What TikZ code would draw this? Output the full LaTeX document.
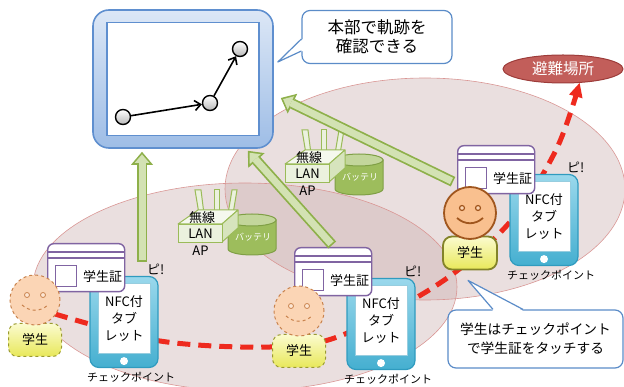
\documentclass[tikz,border=0pt]{standalone}
\usepackage{fontspec}
\setmainfont{Noto Sans CJK JP}
\usetikzlibrary{positioning,calc,arrows.meta,shapes.geometric}

\definecolor{areafill}{HTML}{C4A4A4}
\definecolor{areaedge}{HTML}{D99694}
\definecolor{frameblue}{HTML}{5F8FCF}
\definecolor{framelight}{HTML}{DCE7F6}
\definecolor{framedark}{HTML}{9EBDE6}
\definecolor{noteedge}{HTML}{5B8CC8}
\definecolor{linkgreen}{HTML}{8EB04A}
\definecolor{linkfill}{HTML}{D3E2B3}
\definecolor{apedge}{HTML}{9BBB59}
\definecolor{apfill}{HTML}{EBF1DE}
\definecolor{apside}{HTML}{D7E4BD}
\definecolor{batfill}{HTML}{9DBD5C}
\definecolor{battop}{HTML}{C3D69B}
\definecolor{batedge}{HTML}{7F9F45}
\definecolor{cardedge}{HTML}{8064A2}
\definecolor{padedge}{HTML}{2F9BBF}
\definecolor{padlight}{HTML}{9AD8EC}
\definecolor{paddark}{HTML}{45AFD0}
\definecolor{evacred}{HTML}{EE2A1E}
\definecolor{shelterfill}{HTML}{C25E5A}
\definecolor{shelteredge}{HTML}{9D3C3A}
\definecolor{facelight}{HTML}{FBD5B5}
\definecolor{facefill}{HTML}{F9C08F}
\definecolor{faceedge}{HTML}{C8824C}
\definecolor{facedark}{HTML}{A0561E}
\definecolor{bodytop}{HTML}{FBFBCF}
\definecolor{bodybottom}{HTML}{E8E85A}
\definecolor{bodyedge}{HTML}{9A9A30}

\begin{document}
\begin{tikzpicture}[
    x=1pt,y=-1pt,
    font=\fontsize{13}{16}\selectfont,
    thick
  ]
\useasboundingbox (0,0) rectangle (624,387);

\tikzstyle{area}=[fill=areafill,fill opacity=.35]
\tikzstyle{arealine}=[draw=areaedge,line width=.6pt]
\tikzstyle{frame}=[rectangle,rounded corners=16pt,minimum width=180,minimum height=138,draw=frameblue,line width=1.6pt,top color=framelight,bottom color=framedark]
\tikzstyle{monitor}=[rectangle,minimum width=152,minimum height=113,draw=frameblue,line width=1.6pt,fill=white]
\tikzstyle{dot}=[circle,minimum size=15,inner sep=0pt,draw=black,line width=1.4pt,top color=white,bottom color=black!28]
\tikzstyle{track}=[line width=1.6pt,-{Straight Barb[length=6pt,width=10pt]}]
\tikzstyle{note}=[rectangle,rounded corners=8pt,draw=noteedge,line width=1.2pt,fill=white,align=center]
\tikzstyle{noteline}=[draw=noteedge,line width=1.2pt,line join=round]
\tikzstyle{shelter}=[ellipse,minimum width=120,minimum height=28,inner sep=0pt,fill=shelterfill,draw=shelteredge,line width=1pt,text=white,font=\fontsize{15.5}{18}\selectfont]
\tikzstyle{evac}=[draw=evacred,line width=5pt,dash pattern=on 13pt off 8pt,-{Triangle[length=14pt,width=14pt,line width=0pt]}]
\tikzstyle{uplink}=[draw=linkgreen,line width=10.5pt,-{Triangle[length=13pt,width=22pt,line width=0pt]}]
\tikzstyle{uplinkfill}=[draw=linkfill,line width=7pt,-{Triangle[length=8.6pt,width=14.8pt,line width=0pt]},shorten >=2.6pt,shorten <=1.7pt]
\tikzstyle{antenna}=[draw=apedge,fill=apfill,line width=1pt]
\tikzstyle{aptop}=[draw=apedge,fill=apfill!50!white,line width=1pt,line join=round]
\tikzstyle{apright}=[draw=apedge,fill=apside,line width=1pt,line join=round]
\tikzstyle{apfront}=[rectangle,anchor=north west,minimum width=44,minimum height=18,inner sep=0pt,draw=apedge,fill=apfill,line width=1pt]
\tikzstyle{batbody}=[draw=batedge,fill=batfill,line width=1pt]
\tikzstyle{battopface}=[draw=batedge,fill=battop,line width=1pt]
\tikzstyle{battext}=[text=white,font=\fontsize{9}{10}\selectfont]
\tikzstyle{card}=[rectangle,anchor=north west,rounded corners=6pt,minimum width=77,minimum height=48,draw=cardedge,line width=1.4pt,fill=white]
\tikzstyle{cardline}=[draw=cardedge,line width=1.4pt]
\tikzstyle{photo}=[rectangle,anchor=south west,minimum size=21,inner sep=0pt,draw=cardedge,line width=1.4pt,fill=white]
\tikzstyle{pad}=[rectangle,rounded corners=9pt,minimum width=68,minimum height=91,draw=padedge,line width=1.2pt,top color=padlight,bottom color=paddark]
\tikzstyle{padscreen}=[rectangle,anchor=north,minimum width=52,minimum height=70,inner sep=0pt,fill=white,draw=padedge!50,line width=.5pt,align=center,font=\fontsize{13}{17}\selectfont]
\tikzstyle{padbutton}=[circle,minimum size=8,inner sep=0pt,fill=white]
\tikzstyle{past head}=[circle,minimum size=50,inner sep=0pt,draw=faceedge,dashed,line width=1pt,fill=facelight]
\tikzstyle{now head}=[circle,minimum size=52,inner sep=0pt,draw=facedark,line width=1.8pt,fill=facefill]
\tikzstyle{past body}=[rectangle,rounded corners=9pt,minimum width=53,minimum height=33,draw=bodyedge,dashed,line width=1pt,top color=bodytop,bottom color=bodybottom]
\tikzstyle{now body}=[rectangle,rounded corners=9pt,minimum width=54,minimum height=33,draw=bodyedge!85!black,line width=1.8pt,top color=bodytop,bottom color=bodybottom]
\tikzstyle{past eye}=[draw=faceedge,fill=facelight!60!white,line width=.8pt]
\tikzstyle{now eye}=[draw=facedark,fill=facelight,line width=1.2pt]
\tikzstyle{past smile}=[draw=faceedge,dashed,line width=1pt]
\tikzstyle{now smile}=[draw=facedark,line width=1.8pt]

% wireless AP with its battery, #2,#3 = top left of the front face
\def\aprouter#1#2#3{
  \begin{scope}[shift={(#2,#3)}]
    \filldraw[batbody] (50,-4) -- (50,25) arc[start angle=180,end angle=360,x radius=24pt,y radius=6pt] -- (98,-4) -- cycle;
    \filldraw[battopface] (74,-4) ellipse [x radius=24pt,y radius=6pt];
    \node[battext] (#1bat) at (75,13) {バッテリ};
    \filldraw[antenna] (17,-34) -- (23,-34) -- (26,-10) -- (21,-10) -- cycle;
    \filldraw[antenna] (36,-34) -- (41,-34) -- (41,-10) -- (36,-10) -- cycle;
    \filldraw[antenna] (54,-34) -- (59,-34) -- (55,-10) -- (50,-10) -- cycle;
    \filldraw[aptop] (0,0) -- (20,-14) -- (60,-14) -- (44,0) -- cycle;
    \filldraw[apright] (44,0) -- (60,-14) -- (60,4) -- (44,18) -- cycle;
    \node[apfront] (#1) at (0,0) {LAN};
    \node (#1name) at (24,-6) {無線};
    \node[below=-1pt of #1] (#1label) {AP};
  \end{scope}
}

% student ID card, #2,#3 = top left corner
\def\idcard#1#2#3{
  \node[card] (#1) at (#2,#3) {};
  \draw[cardline] ($(#1.north west)+(0,9)$) -- ($(#1.north east)+(0,9)$);
  \draw[cardline] ($(#1.north west)+(0,15)$) -- ($(#1.north east)+(0,15)$);
  \node[photo] (#1photo) at ($(#1.south west)+(8,-5)$) {};
  \node[right=2pt of #1photo] (#1text) {学生証};
}

% student, #2,#3 = centre of the head, #4 = past or now
\def\student#1#2#3#4{
  \node[#4 body] (#1body) at (#2,#3+40) {学生};
  \node[#4 head] (#1head) at (#2,#3) {};
  \begin{scope}[shift={(#1head.center)}]
    \draw[#4 eye] (-8,-5) circle (2.5pt);
    \draw[#4 eye] (8,-5) circle (2.5pt);
    \draw[#4 smile] (-13,5) .. controls (-5,12) and (5,12) .. (13,5);
  \end{scope}
}

% NFC tablet used as check point
\def\tabpad#1#2#3{
  \node[pad] (#1) at (#2,#3) {};
  \node[padscreen] (#1scr) at ($(#1.north)+(0,7)$) {NFC付\\タブ\\レット};
  \node[padbutton] (#1btn) at ($(#1.south)+(0,-7)$) {};
  \node[below=0pt of #1,xshift=7pt,font=\fontsize{11}{13}\selectfont] (#1label) {チェックポイント};
  \node (#1beep) at ($(#1.north east)+(-3,-7)$) {ピ!};
}

\def\uplinkarrow#1#2{
  \draw[uplink] (#1) -- (#2);
  \draw[uplinkfill] (#1) -- (#2);
}

% radio areas
\fill[area] (245,287) ellipse [x radius=212pt,y radius=104pt];
\fill[area] (425,189) ellipse [x radius=200pt,y radius=111pt];
\draw[arealine] (245,287) ellipse [x radius=212pt,y radius=104pt];
\draw[arealine] (425,189) ellipse [x radius=200pt,y radius=111pt];

% head office screen
\node[frame] (screen) at (183,79) {};
\node[monitor] (monitor) at (screen.center) {};
\node[dot] (p1) at (123,117) {};
\node[dot] (p2) at (210,103) {};
\node[dot] (p3) at (240,49) {};
\draw[track] (p1) -- (p2);
\draw[track] (p2) -- (p3);

\node[note,minimum width=150,minimum height=53,font=\fontsize{16.5}{19}\selectfont] (hqnote) at (377,37) {本部で軌跡を\\確認できる};
\coordinate (hqtip) at ($(screen.east)+(4,-17)$);
\fill[white] (hqtip) -- ($(hqnote.west)+(1.5,2)$) -- ($(hqnote.west)+(1.5,14)$) -- cycle;
\draw[noteline] ($(hqnote.west)+(0,2)$) -- (hqtip) -- ($(hqnote.west)+(0,14)$);

\node[shelter] (shelter) at (563,69) {避難場所};

\aprouter{ap1}{178}{224}
\aprouter{ap2}{285}{164}

% evacuation route
\coordinate (walk0) at (55,314);
\coordinate (walk1) at (160,341);
\coordinate (walk2) at (270,347);
\coordinate (walk3) at (340,336);
\coordinate (walk4) at (440,283);
\coordinate (walk5) at (510,222);
\coordinate (walk6) at (556,150);
\draw[evac] plot[smooth,tension=.55] coordinates {(walk0) (walk1) (walk2) (walk3) (walk4) (walk5) (walk6) (shelter.-40)};

\tabpad{tab1}{124}{322}
\tabpad{tab2}{381}{324}
\tabpad{tab3}{544}{220}

\idcard{card1}{47}{243}
\idcard{card2}{294}{247}
\idcard{card3}{457}{145}

\student{s1}{35}{300}{past}
\student{s2}{299}{311}{past}
\student{s3}{470}{213}{now}

% records sent to the head office
\coordinate (link1) at ($(tab1.north)+(18,-14)$);
\coordinate (link1end) at ($(screen.south)+(-41,3)$);
\coordinate (link2) at ($(card2.north)+(-1,-2)$);
\coordinate (link2end) at ($(screen.south east)+(-26,2)$);
\coordinate (link3) at ($(card3.west)+(-4,12)$);
\coordinate (link3end) at ($(screen.east)+(7,19)$);
\uplinkarrow{link1}{link1end}
\uplinkarrow{link2}{link2end}
\uplinkarrow{link3}{link3end}

\node[note,minimum width=175,minimum height=58,font=\fontsize{13.7}{19}\selectfont] (tapnote) at (535.5,339) {学生はチェックポイント\\で学生証をタッチする};
\coordinate (taptip) at ($(s3body.south)+(-2,10)$);
\fill[white] (taptip) -- ($(tapnote.north)+(-42.5,1.5)$) -- ($(tapnote.north)+(-12.5,1.5)$) -- cycle;
\draw[noteline] ($(tapnote.north)+(-42.5,0)$) -- (taptip) -- ($(tapnote.north)+(-12.5,0)$);

\end{tikzpicture}
\end{document}
